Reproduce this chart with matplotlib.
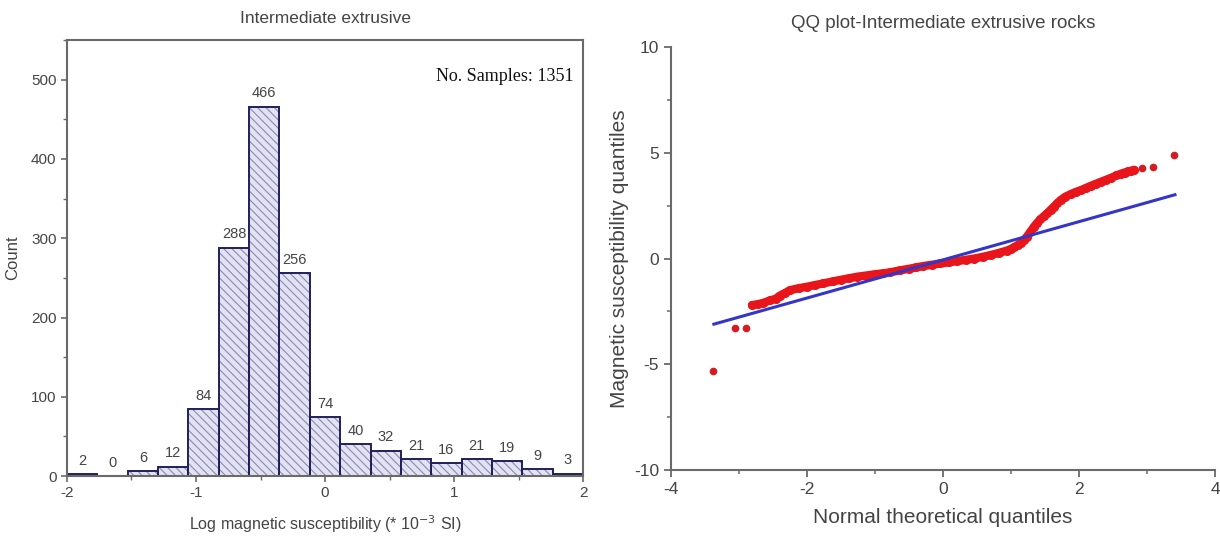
import matplotlib
matplotlib.use('Agg')
import numpy as np
import matplotlib.pyplot as plt
from matplotlib.ticker import MultipleLocator

plt.rcParams['font.family'] = ['Liberation Sans Narrow', 'Liberation Sans', 'DejaVu Sans']
plt.rcParams['axes.unicode_minus'] = False
plt.rcParams['hatch.linewidth'] = 0.8

# histogram of log susceptibility (17 equal bins between -2 and 2)
bin_lo = -2.0
bin_hi = 2.0
counts = [2, 0, 6, 12, 84, 288, 466, 256, 74, 40, 32, 21, 16, 21, 19, 9, 3]
n_samples = 1351

# QQ plot: sample quantiles against normal theoretical quantiles
qq_x = [-2.81, -2.72, -2.65, -2.54, -2.46, -2.4, -2.32, -2.25, -2.12, -2.0, -1.88,
        -1.76, -1.62, -1.5, -1.38, -1.27, -1.13, -1.0, -0.89, -0.78, -0.64, -0.5,
        -0.4, -0.29, -0.16, -0.04, 0.08, 0.2, 0.33, 0.45, 0.58, 0.7, 0.82, 0.94,
        1.0, 1.05, 1.1, 1.14, 1.19, 1.23, 1.28, 1.33, 1.38, 1.43, 1.48, 1.53, 1.58,
        1.63, 1.68, 1.73, 1.8, 1.88, 1.95, 2.03, 2.1, 2.18, 2.25, 2.32, 2.4, 2.47,
        2.55, 2.62, 2.67, 2.72, 2.77, 2.81]
qq_y = [-2.2, -2.15, -2.1, -1.97, -1.9, -1.75, -1.62, -1.49, -1.4, -1.33, -1.25,
        -1.17, -1.08, -1.0, -0.93, -0.86, -0.8, -0.74, -0.7, -0.65, -0.56, -0.48,
        -0.42, -0.35, -0.29, -0.23, -0.18, -0.12, -0.06, 0.0, 0.08, 0.17, 0.27, 0.38,
        0.46, 0.55, 0.64, 0.74, 0.88, 1.03, 1.25, 1.48, 1.68, 1.85, 2.0, 2.14, 2.3,
        2.46, 2.62, 2.77, 2.93, 3.05, 3.15, 3.24, 3.34, 3.45, 3.54, 3.63, 3.73, 3.82,
        3.93, 4.02, 4.07, 4.12, 4.16, 4.2]
qq_out_x = [-3.38, -3.06, -2.9, 2.92, 3.08, 3.4]
qq_out_y = [-5.3, -3.3, -3.26, 4.26, 4.34, 4.89]

# reference line
line_x = [-3.37, 3.41]
line_y = [-3.1, 3.02]

text_col = '#444444'
spine_col = '#6a6a6a'

fig = plt.figure(figsize=(12.2, 5.41), dpi=100)

# ---- left: histogram ----
ax1 = fig.add_axes([0.0549, 0.120, 0.423, 0.806])
edges = np.linspace(bin_lo, bin_hi, len(counts) + 1)
widths = np.diff(edges)
ax1.bar(edges[:-1], counts, width=widths, align='edge', color='#e2e2f4',
        edgecolor='#8a8aae', hatch='\\\\\\\\', linewidth=0)
ax1.bar(edges[:-1], counts, width=widths, align='edge', color='none',
        edgecolor='#20205a', linewidth=1.4)
for left, w, c in zip(edges[:-1], widths, counts):
    ax1.text(left + w / 2, c + 8, str(c), ha='center', va='bottom',
             fontsize=10.5, color=text_col)

ax1.set_xlim(bin_lo, bin_hi)
ax1.set_ylim(0, 550)
ax1.xaxis.set_major_locator(MultipleLocator(1))
ax1.xaxis.set_minor_locator(MultipleLocator(0.5))
ax1.yaxis.set_major_locator(MultipleLocator(100))
ax1.yaxis.set_minor_locator(MultipleLocator(50))
ax1.tick_params(which='both', direction='out', colors=spine_col, labelcolor=text_col,
                labelsize=11, top=False, right=False)
ax1.tick_params(which='major', length=4, width=1.2)
ax1.tick_params(which='minor', length=3, width=1.0)
for s in ax1.spines.values():
    s.set_color(spine_col)
    s.set_linewidth(1.5)
ax1.set_title('Intermediate extrusive', fontsize=12.5, color=text_col, pad=12)
ax1.set_xlabel('Log magnetic susceptibility (* 10$^{-3}$ SI)', fontsize=11.5,
               color=text_col, labelpad=9)
ax1.set_ylabel('Count', fontsize=12, color=text_col, labelpad=8)
ax1.text(0.982, 0.935, 'No. Samples: %d' % n_samples, transform=ax1.transAxes,
         ha='right', va='top', fontsize=13, family='Liberation Serif', color='#111111')

# ---- right: QQ plot ----
ax2 = fig.add_axes([0.55, 0.131, 0.446, 0.782])
ax2.plot(qq_x, qq_y, color='#e8151b', lw=6, marker='o', ms=5.5,
         solid_capstyle='round', solid_joinstyle='round', zorder=2)
ax2.plot(qq_out_x, qq_out_y, 'o', color='#d41c22', ms=4.5, zorder=2)
ax2.plot(line_x, line_y, color='#3535c8', lw=2.2, zorder=3)

ax2.set_xlim(-4, 4)
ax2.set_ylim(-10, 10)
ax2.xaxis.set_major_locator(MultipleLocator(2))
ax2.xaxis.set_minor_locator(MultipleLocator(1))
ax2.yaxis.set_major_locator(MultipleLocator(5))
ax2.yaxis.set_minor_locator(MultipleLocator(2.5))
ax2.spines['top'].set_visible(False)
ax2.spines['right'].set_visible(False)
for s in ('left', 'bottom'):
    ax2.spines[s].set_color(spine_col)
    ax2.spines[s].set_linewidth(1.5)
ax2.tick_params(which='both', direction='out', colors=spine_col, labelcolor=text_col,
                labelsize=12.5)
ax2.tick_params(which='major', length=5, width=1.3)
ax2.tick_params(which='minor', length=3, width=1.1)
ax2.set_title('QQ plot-Intermediate extrusive rocks', fontsize=13.5, color=text_col, pad=14)
ax2.set_xlabel('Normal theoretical quantiles', fontsize=15, color=text_col, labelpad=8)
ax2.set_ylabel('Magnetic susceptibility quantiles', fontsize=15, color=text_col, labelpad=4)

fig.savefig('out.png', dpi=100)
